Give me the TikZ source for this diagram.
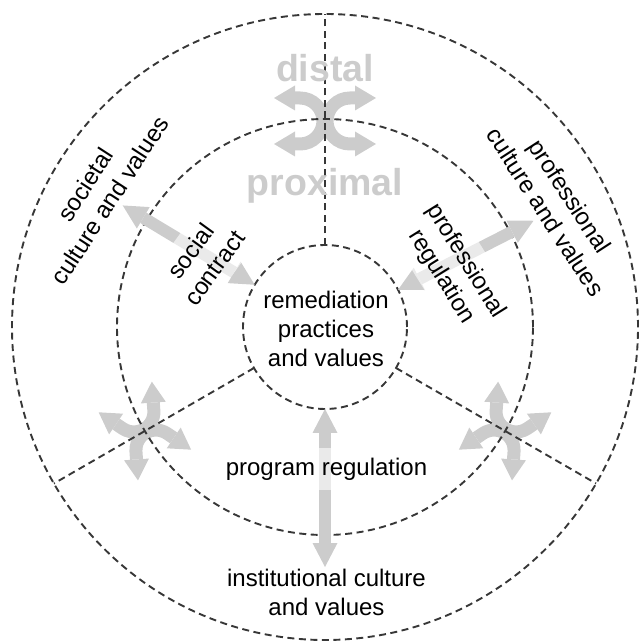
\documentclass[tikz,border=0pt]{standalone}
\usepackage{fontspec}
\setmainfont{Liberation Sans}
\usetikzlibrary{arrows.meta,calc}
\definecolor{lgray}{RGB}{204,204,204}
\definecolor{dgray}{RGB}{55,55,55}
\tikzset{
  dashline/.style={draw=dgray, line width=1.9pt, dash pattern=on 7pt off 4.5pt},
  fatarrow/.style={draw=lgray, line width=12pt,
    {Triangle[length=24pt,width=25pt,line width=0pt]}-{Triangle[length=24pt,width=25pt,line width=0pt]}},
  glyph/.style={draw=lgray, line width=13pt,
    {Triangle[length=21pt,width=25pt,line width=0pt]}-{Triangle[length=21pt,width=25pt,line width=0pt]}},
  lbl/.style={font=\fontsize{24}{29}\selectfont, align=center, text=black, inner sep=0pt},
  onarrow/.style={lbl, fill=white, fill opacity=0.6, text opacity=1, inner sep=10pt},
  zone/.style={font=\fontsize{37.5}{40}\selectfont\bfseries, text=lgray, inner sep=0pt},
}
% #1 x, #2 y, #3 rotation, #4 phi, #5 arc radius, #6 arm length
\newcommand\xglyph[6]{%
  \begin{scope}[shift={(#1,#2)}, rotate=#3]
    \foreach \s in {1,-1}{%
      \begin{scope}[xscale=\s]
        \draw[glyph] ($(#5+2,0)+(#4:#5)+(#4-90:#6)$) -- ($(#5+2,0)+(#4:#5)$)
          arc[start angle=#4, end angle=360-#4, radius=#5] -- ++(90-#4:#6);
      \end{scope}}
  \end{scope}}
\begin{document}
\begin{tikzpicture}[x=1pt,y=1pt]
\useasboundingbox (-325,-317) rectangle (313,327);
\coordinate (ctr) at (0,0);
% curved exchange glyphs (under dashed lines)
\xglyph{0}{206}{0}{90}{23}{26}
\xglyph{-180.1}{-104}{120}{116}{20}{29}
\xglyph{180.1}{-104}{240}{116}{20}{29}
% dashed rings and dividers
\draw[dashline] (ctr) circle[radius=313];
\draw[dashline] (ctr) circle[radius=208];
\draw[dashline] (ctr) circle[radius=82];
\coordinate (d1a) at (90:82);  \coordinate (d1b) at (90:313);
\coordinate (d2a) at (210:82); \coordinate (d2b) at (210:313);
\coordinate (d3a) at (330:82); \coordinate (d3b) at (330:313);
\draw[dashline] (d1a) -- (d1b);
\draw[dashline] (d2a) -- (d2b);
\draw[dashline] (d3a) -- (d3b);
% double arrows
\coordinate (scA) at (149:236); \coordinate (scB) at (149:82);
\coordinate (prA) at (27:234);  \coordinate (prB) at (27:82);
\coordinate (pgA) at (270:240); \coordinate (pgB) at (270:82);
\draw[fatarrow] (scA) -- (scB);
\draw[fatarrow] (prA) -- (prB);
\draw[fatarrow] (pgA) -- (pgB);
% labels
\node[zone, anchor=base] (dist) at (0,245) {distal};
\node[zone, anchor=base] (prox) at (0,131) {proximal};
\node[lbl] (rem) at (1,-2.4) {remediation\\practices\\and values};
\node[onarrow, anchor=base] (preg2) at (1.5,-148) {program regulation};
\node[lbl] (inst) at (1.5,-265.3) {institutional culture\\and values};
\node[lbl, rotate=57] (soc) at (-227.5,134.5) {societal\\culture and values};
\node[onarrow, rotate=54] (scl) at (-122.5,67.5) {social\\contract};
\node[onarrow, rotate=-58] (preg) at (128.5,58) {professional\\regulation};
\node[lbl, rotate=-57] (pcul) at (233,123) {professional\\culture and values};
\end{tikzpicture}
\end{document}
